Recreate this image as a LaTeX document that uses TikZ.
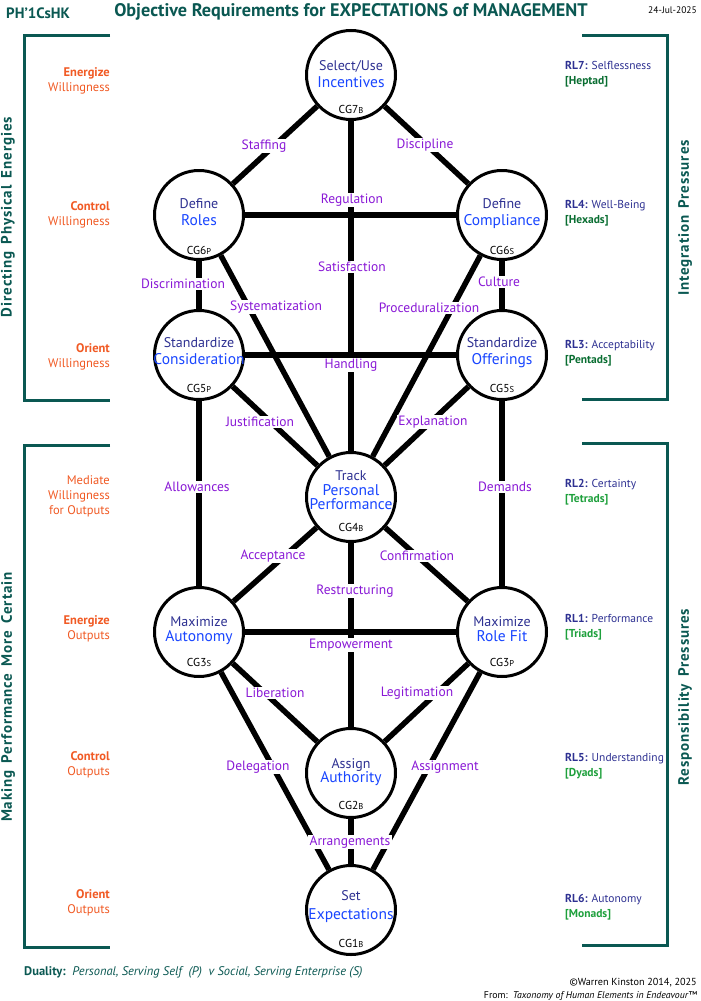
\documentclass[tikz,border=0pt]{standalone}
\usepackage{fontspec}
\setmainfont{PT Sans}
\definecolor{teal}{RGB}{10,88,82}
\definecolor{orng}{RGB}{241,90,36}
\definecolor{nblueA}{RGB}{46,49,146}
\definecolor{nblueB}{RGB}{25,70,255}
\definecolor{lpurp}{RGB}{137,24,214}
\definecolor{dgreen}{RGB}{10,110,50}
\definecolor{bgreen}{RGB}{30,160,60}
\begin{document}
\begin{tikzpicture}[x=1pt,y=-1pt,
  cgnode/.style={circle,draw=black,line width=3pt,fill=white,minimum size=89pt,inner sep=0pt},
  edge/.style={line width=5.5pt,black},
  elab/.style={fill=white,inner sep=1.2pt,text=lpurp,font=\fontsize{13.5}{14}\selectfont},
  ta/.style={text=nblueA,font=\fontsize{14}{14}\selectfont,inner sep=0pt,anchor=base},
  tb/.style={text=nblueB,font=\fontsize{15.5}{15}\selectfont,inner sep=0pt,anchor=base},
  cglab/.style={font=\fontsize{11.5}{11}\selectfont,inner sep=0pt,anchor=base},
  bracket/.style={draw=teal,line width=3pt},
  sidetxt/.style={rotate=90,text=teal,font=\bfseries\fontsize{15}{15}\selectfont\addfontfeatures{LetterSpace=6},inner sep=0pt},
  leftl/.style={text=orng,font=\fontsize{12.5}{15}\selectfont,align=right,anchor=east,inner sep=0pt},
  rightl/.style={font=\fontsize{11.5}{15}\selectfont,align=left,anchor=west,inner sep=0pt}
]
\useasboundingbox (0,0) rectangle (701,1001);
\fill[white] (0,0) rectangle (701,1001);

% header
\node[anchor=west,text=teal,font=\bfseries\fontsize{15}{15}\selectfont,inner sep=0pt] (code) at (6,13) {PH’1CsHK};
\node[text=teal,font=\bfseries\fontsize{18.2}{18}\selectfont,inner sep=0pt] (title) at (351,12) {Objective Requirements for EXPECTATIONS of MANAGEMENT};
\node[anchor=east,font=\fontsize{9.5}{10}\selectfont,inner sep=0pt] (date) at (697,10) {24-Jul-2025};

% brackets
\draw[bracket] (110,35) -- (24,35) -- (24,400) -- (110,400);
\draw[bracket] (110,445) -- (24,445) -- (24,947) -- (110,947);
\draw[bracket] (582,35) -- (667,35) -- (667,399) -- (582,399);
\draw[bracket] (582,443) -- (667,443) -- (667,945) -- (582,945);

% side texts
\node[sidetxt] (dpe) at (8,217) {Directing\, Physical\, Energies};
\node[sidetxt] (mpc) at (8,697) {Making\, Performance\, More\, Certain};
\node[sidetxt] (ipr) at (685,218) {Integration\, Pressures};
\node[sidetxt] (rpr) at (685,697) {Responsibility\, Pressures};

% left labels
\node[leftl] (l1) at (110,81) {\textbf{Energize}\\Willingness};
\node[leftl] (l2) at (110,215) {\textbf{Control}\\Willingness};
\node[leftl] (l3) at (110,357) {\textbf{Orient}\\Willingness};
\node[leftl] (l4) at (110,496) {Mediate\\Willingness\\for Outputs};
\node[leftl] (l5) at (110,629) {\textbf{Energize}\\Outputs};
\node[leftl] (l6) at (110,765) {\textbf{Control}\\Outputs};
\node[leftl] (l7) at (110,903) {\textbf{Orient}\\Outputs};

% right labels
\node[rightl] (r7) at (565,74) {\textcolor{nblueA}{\textbf{RL7:} Selflessness}\\\textcolor{dgreen}{\textbf{[Heptad]}}};
\node[rightl] (r4) at (565,213) {\textcolor{nblueA}{\textbf{RL4:} Well-Being}\\\textcolor{dgreen}{\textbf{[Hexads]}}};
\node[rightl] (r3) at (565,353) {\textcolor{nblueA}{\textbf{RL3:} Acceptability}\\\textcolor{dgreen}{\textbf{[Pentads]}}};
\node[rightl] (r2) at (565,492) {\textcolor{nblueA}{\textbf{RL2:} Certainty}\\\textcolor{bgreen}{\textbf{[Tetrads]}}};
\node[rightl] (r1) at (565,627) {\textcolor{nblueA}{\textbf{RL1:} Performance}\\\textcolor{bgreen}{\textbf{[Triads]}}};
\node[rightl] (r5) at (565,766) {\textcolor{nblueA}{\textbf{RL5:} Understanding}\\\textcolor{bgreen}{\textbf{[Dyads]}}};
\node[rightl] (r6) at (565,907) {\textcolor{nblueA}{\textbf{RL6:} Autonomy}\\\textcolor{bgreen}{\textbf{[Monads]}}};

% circles
\node[cgnode] (inc) at (351,75) {};
\node[cgnode] (rol) at (199,215) {};
\node[cgnode] (com) at (502,215) {};
\node[cgnode] (con) at (199,355) {};
\node[cgnode] (off) at (502,355) {};
\node[cgnode] (trk) at (351,497) {};
\node[cgnode] (aut) at (199,632) {};
\node[cgnode] (fit) at (502,632) {};
\node[cgnode] (ath) at (351,773) {};
\node[cgnode] (exp) at (351,910) {};

% edges
\draw[edge] (inc) -- (rol);
\draw[edge] (inc) -- (com);
\draw[edge] (inc) -- (trk);
\draw[edge] (rol) -- (com);
\draw[edge] (rol) -- (con);
\draw[edge] (rol) -- (trk);
\draw[edge] (com) -- (off);
\draw[edge] (com) -- (trk);
\draw[edge] (con) -- (off);
\draw[edge] (con) -- (trk);
\draw[edge] (off) -- (trk);
\draw[edge] (con) -- (aut);
\draw[edge] (off) -- (fit);
\draw[edge] (trk) -- (aut);
\draw[edge] (trk) -- (fit);
\draw[edge] (trk) -- (ath);
\draw[edge] (aut) -- (fit);
\draw[edge] (aut) -- (ath);
\draw[edge] (fit) -- (ath);
\draw[edge] (aut) -- (exp);
\draw[edge] (fit) -- (exp);
\draw[edge] (ath) -- (exp);

% edge labels
\node[elab] (e1) at (264,146) {Staffing};
\node[elab] (e2) at (425,145) {Discipline};
\node[elab] (e3) at (352,200) {Regulation};
\node[elab] (e4) at (352,267) {Satisfaction};
\node[elab] (e5) at (351,365) {Handling};
\node[elab] (e6) at (183,284) {Discrimination};
\node[elab] (e7) at (276,307) {Systematization};
\node[elab] (e8) at (499,282) {Culture};
\node[elab] (e9) at (429,308) {Proceduralization};
\node[elab] (e10) at (260,422) {Justification};
\node[elab] (e11) at (433,422) {Explanation};
\node[elab] (e12) at (197,487) {Allowances};
\node[elab] (e13) at (505,487) {Demands};
\node[elab] (e14) at (273,556) {Acceptance};
\node[elab] (e15) at (417,556) {Confirmation};
\node[elab] (e16) at (355,591) {Restructuring};
\node[elab] (e17) at (351,645) {Empowerment};
\node[elab] (e18) at (275,693) {Liberation};
\node[elab] (e19) at (417,693) {Legitimation};
\node[elab] (e20) at (258,767) {Delegation};
\node[elab] (e21) at (445,767) {Assignment};
\node[elab] (e22) at (350,842) {Arrangements};

% circle texts
\newcommand{\cgtxt}[2]{CG#1{\fontsize{8.5}{8}\selectfont\raisebox{-0.8pt}{#2}}}
\node[ta] (incA) at (351,70) {Select/Use};
\node[tb] (incB) at (351,87) {Incentives};
\node[cglab] (incC) at (351,113) {\cgtxt{7}{B}};

\node[ta] (rolA) at (199,208) {Define};
\node[tb] (rolB) at (199,225) {Roles};
\node[cglab] (rolC) at (199,254) {\cgtxt{6}{P}};

\node[ta] (comA) at (502,208) {Define};
\node[tb] (comB) at (502,225) {Compliance};
\node[cglab] (comC) at (502,254) {\cgtxt{6}{S}};

\node[ta] (conA) at (199,347) {Standardize};
\node[tb] (conB) at (199,364) {Consideration};
\node[cglab] (conC) at (199,392) {\cgtxt{5}{P}};

\node[ta] (offA) at (502,347) {Standardize};
\node[tb] (offB) at (502,364) {Offerings};
\node[cglab] (offC) at (502,392) {\cgtxt{5}{S}};

\node[ta] (trkA) at (351,480) {Track};
\node[tb] (trkB) at (351,495) {Personal};
\node[tb] (trkD) at (351,509) {Performance};
\node[cglab] (trkC) at (351,531) {\cgtxt{4}{B}};

\node[ta] (autA) at (199,626) {Maximize};
\node[tb] (autB) at (199,641) {Autonomy};
\node[cglab] (autC) at (199,666) {\cgtxt{3}{S}};

\node[ta] (fitA) at (502,626) {Maximize};
\node[tb] (fitB) at (502,641) {Role Fit};
\node[cglab] (fitC) at (502,666) {\cgtxt{3}{P}};

\node[ta] (athA) at (351,768) {Assign};
\node[tb] (athB) at (351,782) {Authority};
\node[cglab] (athC) at (351,809) {\cgtxt{2}{B}};

\node[ta] (expA) at (351,900) {Set};
\node[tb] (expB) at (351,919) {Expectations};
\node[cglab] (expC) at (351,947) {\cgtxt{1}{B}};

% footer
\node[anchor=base west,text=teal,font=\fontsize{12.5}{12}\selectfont,inner sep=0pt] (dual) at (24,975) {\textbf{Duality:}\ \ \textit{Personal, Serving Self\ \ (P)\ \ v Social, Serving Enterprise (S)}};
\node[anchor=base east,font=\fontsize{10.2}{10}\selectfont,inner sep=0pt] (copy) at (697,985) {©Warren Kinston 2014, 2025};
\node[anchor=base east,font=\fontsize{9.8}{10}\selectfont,inner sep=0pt] (from) at (697,998) {From:\ \ \textit{Taxonomy of Human Elements in Endeavour™}};
\end{tikzpicture}
\end{document}
